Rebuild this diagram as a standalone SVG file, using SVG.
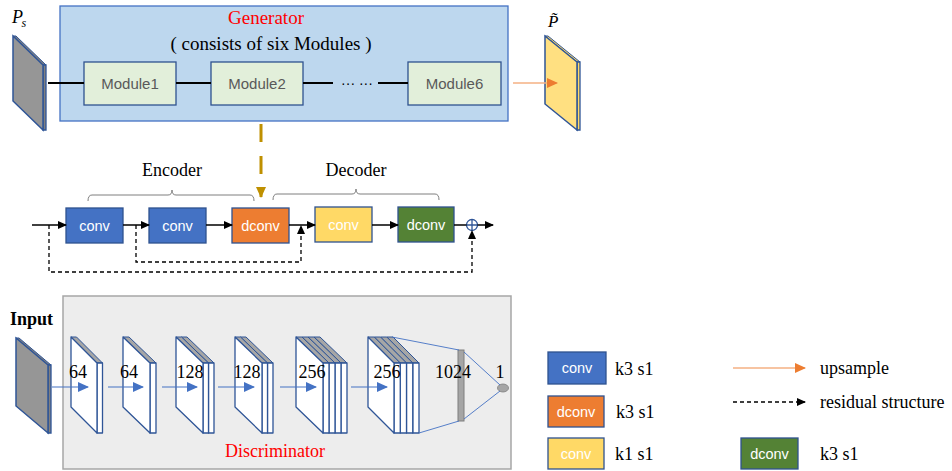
<svg xmlns="http://www.w3.org/2000/svg" width="952" height="471" viewBox="0 0 952 471">
<defs>
<style>
.serif{font-family:"Liberation Serif","Times New Roman",serif;fill:#000}
.sans{font-family:"Liberation Sans",Arial,sans-serif}
.red{fill:#FF0000}
.blk{stroke:#2F528F;stroke-width:1.3}
.mod{fill:#E2EFDA;stroke:#2F528F;stroke-width:1.3}
.modt{font-family:"Liberation Sans",Arial,sans-serif;font-size:15px;fill:#595959;text-anchor:middle}
.bt{font-family:"Liberation Sans",Arial,sans-serif;font-size:14.5px;fill:#FFFFFF;text-anchor:middle}
.ln{stroke:#000;stroke-width:2;fill:none}
.ar{stroke:#000;stroke-width:1.5;fill:none}
.dash{stroke:#000;stroke-width:1.3;fill:none;stroke-dasharray:4 3}
.brace{stroke:#7F7F7F;stroke-width:1;fill:none}
.face{fill:#FFFFFF;stroke:#2F5597;stroke-width:1.3;stroke-linejoin:round}
.top{fill:#A6A6A6;stroke:#2F5597;stroke-width:1;stroke-linejoin:round}
.barr{stroke:#4472C4;stroke-width:1.2;fill:none}
.thin{stroke:#4472C4;stroke-width:0.9;fill:none}
.num{font-family:"Liberation Serif","Times New Roman",serif;font-size:18px;text-anchor:middle;fill:#000}
.leg{font-family:"Liberation Serif","Times New Roman",serif;font-size:18px;fill:#000}
</style>
<marker id="mk" markerWidth="9" markerHeight="8" refX="8" refY="4" orient="auto" markerUnits="userSpaceOnUse"><path d="M0,0 L9,4 L0,8 Z" fill="#000"/></marker>
<marker id="mo" markerWidth="11" markerHeight="10" refX="10" refY="5" orient="auto" markerUnits="userSpaceOnUse"><path d="M0,0 L11,5 L0,10 Z" fill="#ED7D31"/></marker>
<marker id="mb" markerWidth="11" markerHeight="10" refX="10" refY="5" orient="auto" markerUnits="userSpaceOnUse"><path d="M0,0 L11,5 L0,10 Z" fill="#4472C4"/></marker>
<marker id="mg" markerWidth="11" markerHeight="10" refX="10" refY="5" orient="auto" markerUnits="userSpaceOnUse"><path d="M0,0 L11,5 L0,10 Z" fill="#BF9000"/></marker>
</defs>

<!-- Generator -->
<g id="generator">
<rect x="60" y="6" width="448" height="115" fill="#BDD7EE" stroke="#4472C4" stroke-width="1.3"/>
<text x="266" y="24" class="serif red" font-size="19" text-anchor="middle">Generator</text>
<text x="271" y="50" class="serif" font-size="19" text-anchor="middle">( consists of six Modules )</text>
</g>

<g id="ps">
<path d="M13,36 L16,36 L46,65 L43,65 Z" fill="#7F7F7F" stroke="#2F5597" stroke-width="1"/>
<path d="M43,65 L46,65 L46,130 L43,130 Z" fill="#7F7F7F" stroke="#2F5597" stroke-width="1.3"/>
<path d="M13,36 L43,65 L43,130 L13,101 Z" fill="#969696" stroke="#2F5597" stroke-width="1.5"/>
<text x="12" y="23" class="serif" font-size="18" font-style="italic">P</text>
<text x="21.5" y="27" class="serif" font-size="12" font-style="italic">s</text>
</g>

<g id="pout">
<path d="M545,36 L548,36 L580,62 L577,62 Z" fill="#FFD966" stroke="#2F5597" stroke-width="1"/>
<path d="M577,62 L580,62 L580,130 L577,130 Z" fill="#FFD966" stroke="#2F5597" stroke-width="1.3"/>
<path d="M545,36 L577,62 L577,130 L545,104 Z" fill="#FFE081" stroke="#2F5597" stroke-width="1.5"/>
<text x="548" y="27" class="serif" font-size="17" font-style="italic">P̃</text>
</g>

<g id="module1"><rect x="84" y="62" width="92" height="43" class="mod"/><text x="130" y="89" class="modt">Module1</text></g>
<g id="module2"><rect x="211" y="62" width="92" height="43" class="mod"/><text x="257" y="89" class="modt">Module2</text></g>
<g id="module6"><rect x="408" y="62" width="93" height="43" class="mod"/><text x="454.5" y="89" class="modt">Module6</text></g>
<text x="357" y="88" class="sans" font-size="14" text-anchor="middle" fill="#000">··· ···</text>

<!-- Encoder / decoder row -->
<text x="172" y="176" class="serif" font-size="18" text-anchor="middle">Encoder</text>
<text x="356" y="176" class="serif" font-size="18" text-anchor="middle">Decoder</text>

<g id="enc_conv1"><rect x="66" y="208" width="57" height="35" fill="#4472C4" class="blk"/><text x="94.5" y="231" class="bt">conv</text></g>
<g id="enc_conv2"><rect x="149" y="208" width="57" height="35" fill="#4472C4" class="blk"/><text x="177.5" y="231" class="bt">conv</text></g>
<g id="mid_dconv"><rect x="232" y="208" width="57" height="35" fill="#ED7D31" class="blk"/><text x="260.5" y="231" class="bt">dconv</text></g>
<g id="dec_conv"><rect x="315" y="207" width="57" height="35" fill="#FFD966" class="blk"/><text x="343.5" y="230" class="bt">conv</text></g>
<g id="dec_dconv"><rect x="398" y="207" width="56" height="35" fill="#548235" class="blk"/><text x="426" y="230" class="bt">dconv</text></g>
<g id="plus">
<circle cx="472" cy="225" r="5.5" fill="none" stroke="#2F5597" stroke-width="1.3"/>
<path d="M466.5,225 H477.5 M472,219.5 V230.5" stroke="#2F5597" stroke-width="1.3"/>
</g>

<!-- Discriminator -->
<g id="discriminator">
<rect x="63" y="296" width="448" height="173" fill="#EDEDED" stroke="#A6A6A6" stroke-width="1.5"/>
<text x="275" y="457" class="serif red" font-size="18" text-anchor="middle">Discriminator</text>
</g>
<text x="10" y="325" class="serif" font-size="18" font-weight="bold">Input</text>

<g id="input_plate">
<path d="M16,338 L19,338 L51,365 L48,365 Z" fill="#7F7F7F" stroke="#2F5597" stroke-width="1"/>
<path d="M48,365 L51,365 L51,433 L48,433 Z" fill="#7F7F7F" stroke="#2F5597" stroke-width="1.3"/>
<path d="M16,338 L48,365 L48,433 L16,406 Z" fill="#969696" stroke="#2F5597" stroke-width="1.5"/>
</g>

<g id="layer1">
<path d="M71,337 L76.5,337 L102.5,363 L97,363 Z" class="top"/>
<path d="M97,363 L102.5,363 L102.5,433 L97,433 Z" class="face"/>
<path d="M71,337 L97,363 L97,433 L71,407 Z" class="face"/>
</g>
<g id="layer2">
<path d="M123,337 L129,337 L156,363 L150,363 Z" class="top"/>
<path d="M150,363 L156,363 L156,433 L150,433 Z" class="face"/>
<path d="M123,337 L150,363 L150,433 L123,407 Z" class="face"/>
</g>
<g id="layer3">
<path d="M181.5,337 L187,337 L214,363 L208.5,363 Z" class="top"/>
<path d="M208.5,363 L214,363 L214,433 L208.5,433 Z" class="face"/>
<path d="M176,337 L181.5,337 L208.5,363 L203,363 Z" class="top"/>
<path d="M203,363 L208.5,363 L208.5,433 L203,433 Z" class="face"/>
<path d="M176,337 L203,363 L203,433 L176,407 Z" class="face"/>
</g>
<g id="layer4">
<path d="M240.5,337 L246,337 L273,363 L267.5,363 Z" class="top"/>
<path d="M267.5,363 L273,363 L273,433 L267.5,433 Z" class="face"/>
<path d="M235,337 L240.5,337 L267.5,363 L262,363 Z" class="top"/>
<path d="M262,363 L267.5,363 L267.5,433 L262,433 Z" class="face"/>
<path d="M235,337 L262,363 L262,433 L235,407 Z" class="face"/>
</g>
<g id="layer5">
<path d="M314,337 L320,337 L347,363 L341,363 Z" class="top"/>
<path d="M341,363 L347,363 L347,433 L341,433 Z" class="face"/>
<path d="M308,337 L314,337 L341,363 L335,363 Z" class="top"/>
<path d="M335,363 L341,363 L341,433 L335,433 Z" class="face"/>
<path d="M302,337 L308,337 L335,363 L329,363 Z" class="top"/>
<path d="M329,363 L335,363 L335,433 L329,433 Z" class="face"/>
<path d="M296,337 L302,337 L329,363 L323,363 Z" class="top"/>
<path d="M323,363 L329,363 L329,433 L323,433 Z" class="face"/>
<path d="M296,337 L323,363 L323,433 L296,407 Z" class="face"/>
</g>
<g id="layer6">
<path d="M386.75,337 L393,337 L419,363 L412.75,363 Z" class="top"/>
<path d="M412.75,363 L419,363 L419,433 L412.75,433 Z" class="face"/>
<path d="M380.5,337 L386.75,337 L412.75,363 L406.5,363 Z" class="top"/>
<path d="M406.5,363 L412.75,363 L412.75,433 L406.5,433 Z" class="face"/>
<path d="M374.25,337 L380.5,337 L406.5,363 L400.25,363 Z" class="top"/>
<path d="M400.25,363 L406.5,363 L406.5,433 L400.25,433 Z" class="face"/>
<path d="M368,337 L374.25,337 L400.25,363 L394,363 Z" class="top"/>
<path d="M394,363 L400.25,363 L400.25,433 L394,433 Z" class="face"/>
<path d="M368,337 L394,363 L394,433 L368,407 Z" class="face"/>
</g>
<g id="fc1024">
<rect x="458" y="350" width="6" height="71" fill="#A5A5A5" stroke="#7F7F7F" stroke-width="1"/>
</g>
<g id="out1">
<ellipse cx="503" cy="388" rx="5.5" ry="4" fill="#A5A5A5" stroke="#7F7F7F" stroke-width="0.8"/>
</g>

<text x="78" y="378" class="num">64</text>
<text x="129" y="378" class="num">64</text>
<text x="190" y="378" class="num">128</text>
<text x="247" y="378" class="num">128</text>
<text x="312" y="378" class="num">256</text>
<text x="387" y="378" class="num">256</text>
<text x="453" y="378" class="num">1024</text>
<text x="500" y="378" class="num">1</text>

<!-- Legend -->
<g id="leg_conv"><rect x="548" y="352" width="58" height="32" fill="#4472C4" class="blk"/><text x="577" y="373" class="bt">conv</text></g>
<text x="615" y="375" class="leg">k3 s1</text>
<g id="leg_dconv"><rect x="548" y="396" width="56" height="31" fill="#ED7D31" class="blk"/><text x="576" y="417" class="bt">dconv</text></g>
<text x="616" y="418" class="leg">k3 s1</text>
<g id="leg_yconv"><rect x="548" y="438" width="56" height="31" fill="#FFD966" class="blk"/><text x="576" y="459" class="bt">conv</text></g>
<text x="615" y="460" class="leg">k1 s1</text>
<text x="820" y="374" class="leg">upsample</text>
<text x="820" y="408" class="leg">residual structure</text>
<g id="leg_gdconv"><rect x="741" y="438" width="57" height="31" fill="#548235" class="blk"/><text x="769.5" y="459" class="bt">dconv</text></g>
<text x="820" y="460" class="leg">k3 s1</text>

<!-- Connectors -->
<g id="connectors">
<path d="M48,83 H84" class="ln"/>
<path d="M176,83 H211" class="ln"/>
<path d="M303,83 H333" class="ln"/>
<path d="M378,83 H408" class="ln"/>
<path d="M513,83 H557" stroke="#F4B183" stroke-width="1.3" fill="none" marker-end="url(#mo)"/>
<path d="M261,124 V197" stroke="#BF9000" stroke-width="3" stroke-dasharray="18 14" fill="none" marker-end="url(#mg)"/>
<path d="M88,201 Q88,195 92,195 L168,195 Q172,195 172,190 Q172,195 176,195 L250,195 Q254,195 254,201" class="brace"/>
<path d="M273,200 Q273,194 277,194 L352,194 Q356,194 356,189 Q356,194 360,194 L435,194 Q439,194 439,200" class="brace"/>
<path d="M32,225 H66" class="ar" marker-end="url(#mk)"/>
<path d="M123,225 H149" class="ar" marker-end="url(#mk)"/>
<path d="M206,225 H232" class="ar" marker-end="url(#mk)"/>
<path d="M289,225 H315" class="ar" marker-end="url(#mk)"/>
<path d="M372,225 H398" class="ar" marker-end="url(#mk)"/>
<path d="M454,225 H466.5" class="ar"/>
<path d="M477.5,225 H493" class="ar" marker-end="url(#mk)"/>
<path d="M49,225 V272 H472 V231" class="dash" marker-end="url(#mk)"/>
<path d="M136,225 V262 H301 V226" class="dash" marker-end="url(#mk)"/>
<path d="M52,387 H88" class="barr" marker-end="url(#mb)"/>
<path d="M108,387 H143" class="barr" marker-end="url(#mb)"/>
<path d="M162,387 H197" class="barr" marker-end="url(#mb)"/>
<path d="M218,387 H254" class="barr" marker-end="url(#mb)"/>
<path d="M280,387 H316" class="barr" marker-end="url(#mb)"/>
<path d="M351,387 H387" class="barr" marker-end="url(#mb)"/>
<path d="M392,337 L459,350" class="thin"/>
<path d="M419,433 L459,421" class="thin"/>
<path d="M464,352 L500,385" class="thin"/>
<path d="M464,419 L500,391" class="thin"/>
<path d="M733,368 H805" stroke="#F4B183" stroke-width="1.3" fill="none" marker-end="url(#mo)"/>
<path d="M733,402 H805" class="dash" marker-end="url(#mk)"/>
</g>
</svg>
